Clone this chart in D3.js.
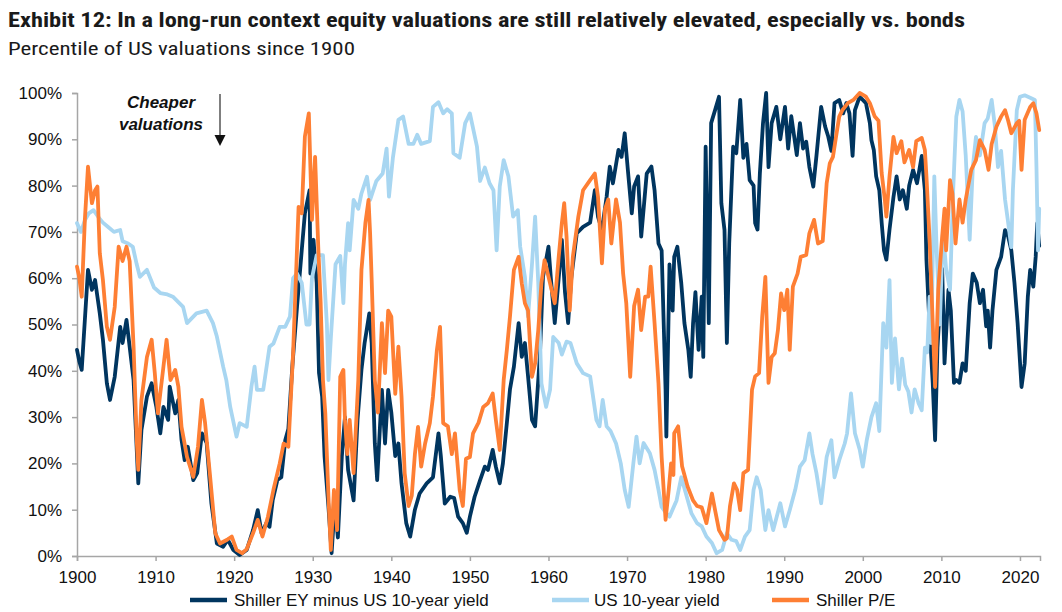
<!DOCTYPE html>
<html>
<head>
<meta charset="utf-8">
<script src="https://cdn.jsdelivr.net/npm/d3@7"></script>
<style>
body{margin:0;background:#fff;}
svg{display:block;}
</style>
</head>
<body>
<svg id="chart" width="1062" height="612"></svg>
<script>
// ---- Data: [year, percentile] ----
const yTicks = [0,10,20,30,40,50,60,70,80,90,100];
const xTicks = [1900,1910,1920,1930,1940,1950,1960,1970,1980,1990,2000,2010,2020];
const seriesNames = ["Shiller EY minus US 10-year yield","US 10-year yield","Shiller P/E"];

const eySeries = [[1900.0,44.5],[1900.3,42],[1900.6,40.2],[1901.0,51],[1901.4,61.8],[1901.9,57.5],[1902.3,59.6],[1902.6,56],[1902.9,52.4],[1903.3,46.7],[1903.8,37.3],[1904.2,33.7],[1904.8,38.7],[1905.5,49.5],[1905.8,46],[1906.3,51],[1906.7,45.2],[1907.2,38],[1907.8,15.7],[1908.2,27.2],[1908.9,34.4],[1909.5,37.3],[1910.1,32.2],[1910.6,26.5],[1911.0,32.2],[1911.6,29.4],[1911.8,36.6],[1912.5,30.8],[1912.9,33.7],[1913.3,25.1],[1913.7,20.7],[1914.1,23.6],[1914.8,16.4],[1915.3,17.9],[1915.9,26.5],[1916.5,24.4],[1917.1,11.4],[1917.8,2.7],[1918.6,2],[1919.2,3.5],[1919.9,1.3],[1920.7,0.2],[1921.6,1.3],[1922.4,5.6],[1923.0,9.9],[1923.5,4.9],[1924.1,7.1],[1924.5,6.3],[1924.9,12],[1925.5,16.4],[1926.0,17],[1926.5,25],[1926.9,27.5],[1927.4,40.9],[1928.0,53.8],[1928.6,66],[1929.0,74],[1929.6,79],[1929.7,61],[1930.1,68.3],[1930.5,59],[1930.8,39.5],[1931.2,34.4],[1931.5,21.6],[1932.0,10.6],[1932.4,0.6],[1932.8,11.3],[1933.2,4],[1933.7,21.4],[1934.1,30],[1934.5,18.6],[1935.2,12],[1935.7,29.4],[1936.2,40.2],[1936.6,46],[1937.2,52.4],[1937.5,46],[1937.9,24.3],[1938.2,16.4],[1938.8,35.9],[1939.2,24.3],[1939.6,35.9],[1940.0,31],[1940.5,21.6],[1940.9,24.3],[1941.3,15.7],[1941.9,7.1],[1942.4,4.2],[1943.0,10],[1943.6,13.5],[1944.5,15.7],[1945.3,17],[1946.0,26.5],[1946.3,21.6],[1946.8,11.3],[1947.5,12.8],[1948.0,12.5],[1948.5,8.5],[1949.1,7.1],[1949.6,5],[1950.0,8.5],[1950.6,12.8],[1951.3,16.4],[1951.9,19.3],[1952.3,18.6],[1952.9,22.9],[1953.3,19.3],[1953.8,15.7],[1954.2,20],[1954.7,28.7],[1955.1,36],[1955.6,40.9],[1956.2,50.3],[1956.6,43],[1957.0,46],[1957.4,38.8],[1957.9,29.4],[1958.3,28],[1958.9,43],[1959.3,60.3],[1960.0,66.8],[1960.3,60],[1960.8,50.3],[1961.3,60],[1961.7,68.3],[1962.1,57],[1962.5,50.3],[1962.9,60],[1963.6,69.7],[1964.4,71.1],[1965.3,72],[1965.9,79],[1966.3,73.3],[1966.8,70.4],[1967.4,77.6],[1967.8,84.1],[1968.2,80.5],[1968.9,87.7],[1969.3,86.2],[1969.7,91.3],[1970.1,83.4],[1970.6,74],[1970.9,79.8],[1971.4,82],[1971.8,69],[1972.5,82.6],[1973.1,84.1],[1973.5,79],[1974.0,67.5],[1974.4,66],[1974.9,35.9],[1975.0,25.8],[1975.4,63],[1975.8,53],[1976.0,64.6],[1976.4,66.8],[1976.9,58.9],[1977.3,50.3],[1977.8,44.5],[1978.1,38.7],[1978.4,50.3],[1978.7,57],[1979.1,44.5],[1979.5,56],[1979.7,43],[1980.0,88.4],[1980.4,50.3],[1980.7,93.5],[1981.2,96.3],[1981.7,99.2],[1982.0,76.2],[1982.4,70.4],[1982.7,46],[1983.0,67.5],[1983.5,88.4],[1983.9,87],[1984.4,98.5],[1984.8,86],[1985.2,89],[1985.6,81.2],[1986.1,80],[1986.3,71.9],[1986.6,70.5],[1986.9,82.6],[1987.3,93.5],[1987.7,100],[1988.0,84],[1988.4,93.5],[1989.0,97],[1989.5,90],[1990.1,97],[1990.5,88],[1990.9,95],[1991.6,86.6],[1992.0,93.5],[1992.4,88],[1992.8,89.5],[1993.2,84],[1993.7,79.8],[1994.1,86.4],[1994.7,97],[1995.2,92.8],[1995.6,90.6],[1996.0,87.5],[1996.4,97.8],[1997.0,98.5],[1997.5,95.6],[1997.9,97.8],[1998.3,95.6],[1998.7,86.4],[1999.0,96.3],[1999.6,99.2],[2000.4,97.8],[2000.9,93.5],[2001.1,89.8],[2001.4,87.7],[2001.7,82],[2002.1,79],[2002.4,72],[2002.7,66],[2003.0,64],[2003.4,70.5],[2003.9,77.5],[2004.3,82],[2004.7,77],[2005.1,79],[2005.6,75],[2005.9,80],[2006.4,83.4],[2006.9,80.5],[2007.5,86.4],[2007.9,79],[2008.1,64],[2008.5,49.5],[2008.9,37.4],[2009.2,25],[2009.5,45],[2010.1,62],[2010.4,41.6],[2010.9,57.5],[2011.2,53],[2011.6,37.4],[2011.9,38],[2012.3,37.4],[2012.7,41.6],[2013.1,40],[2013.6,54.6],[2014.0,61],[2014.5,59],[2014.9,54.6],[2015.3,57.5],[2015.7,49.6],[2015.9,53],[2016.2,45],[2016.5,53],[2017.0,61.8],[2017.6,64.6],[2018.1,70.4],[2018.5,69],[2018.9,66],[2019.3,59],[2019.7,50.3],[2020.2,36.5],[2020.6,41.6],[2021.0,56],[2021.3,61.8],[2021.7,58.2],[2022.0,64.6],[2022.2,71.9],[2022.45,67]];

const bondSeries = [[1900.0,71.9],[1900.5,70],[1901.0,72.5],[1901.5,74],[1902.1,74.7],[1902.8,73],[1903.3,72],[1904.0,71],[1904.7,70],[1905.5,70.4],[1905.8,68],[1906.5,67.5],[1907.1,66.8],[1907.6,63],[1908.0,60.3],[1908.9,61.8],[1909.8,58],[1910.6,56.8],[1911.5,56.5],[1912.2,56],[1913.5,53.8],[1914.0,50.3],[1915.2,52.4],[1916.5,53],[1917.3,50.3],[1917.8,47.4],[1918.6,40.9],[1919.0,38],[1919.5,32.2],[1920.3,25.8],[1920.7,28.7],[1921.6,27.9],[1922.2,36.6],[1922.6,40.9],[1922.9,35.9],[1923.7,35.9],[1924.5,45.2],[1925.0,45.9],[1925.8,49.5],[1926.5,49.5],[1927.1,51.7],[1927.5,60],[1928.0,61],[1928.6,59],[1929.2,50],[1929.6,50],[1929.9,60],[1930.5,65],[1931.3,65],[1931.8,50],[1932.0,38],[1932.3,47],[1932.9,63],[1933.5,64.8],[1933.9,54.6],[1934.1,63],[1934.5,71.9],[1934.7,66],[1935.2,76.9],[1935.8,75],[1936.2,78.3],[1936.9,81.9],[1937.3,76.9],[1938.1,81],[1938.9,82.6],[1939.4,88],[1939.7,77.6],[1940.2,86],[1940.9,94.2],[1941.5,94.9],[1942.2,89],[1942.8,89],[1943.3,91],[1943.8,89],[1944.9,89.6],[1945.3,97],[1946.0,98],[1946.6,95.6],[1947.1,96.5],[1947.7,95.6],[1947.9,87],[1948.7,86],[1949.4,93.5],[1950.0,95.6],[1950.9,88.4],[1951.3,81],[1951.9,83.9],[1952.5,80.5],[1953.0,79],[1953.4,66],[1953.8,79.8],[1954.3,85.5],[1954.9,82],[1955.5,73.3],[1956.1,74.7],[1956.4,66.8],[1957.0,60.3],[1957.4,51.7],[1957.9,63],[1958.3,73.3],[1958.7,59],[1959.1,37.3],[1959.7,32.2],[1960.2,35.9],[1960.6,47.3],[1961.3,46],[1961.7,43.5],[1962.3,46.3],[1962.8,46],[1963.6,41.6],[1964.4,39.5],[1965.3,38.8],[1966.1,29.4],[1966.5,28],[1966.9,33.7],[1967.4,28],[1967.9,27],[1968.6,24.3],[1969.2,20],[1969.7,14.3],[1970.2,10.6],[1970.8,20],[1971.2,25.8],[1971.6,20],[1972.1,24.4],[1972.9,22.2],[1973.5,18.6],[1974.0,14.3],[1974.4,10.6],[1975.0,9.2],[1975.4,8.5],[1976.3,12],[1976.9,17],[1977.6,12.8],[1978.2,9.2],[1978.9,7.1],[1979.5,6.4],[1980.1,4.2],[1980.8,2.8],[1981.4,0.6],[1982.1,1.3],[1982.7,4.9],[1983.3,3.5],[1983.9,3.2],[1984.4,1.3],[1985.0,4.2],[1985.6,5.6],[1986.1,14.3],[1986.5,17],[1987.0,14.3],[1987.6,5.6],[1988.0,9.9],[1988.6,5.6],[1989.5,11.4],[1990.1,6.4],[1990.7,9.9],[1991.4,14.3],[1992.0,19.3],[1992.6,20.7],[1993.2,26.5],[1993.6,22],[1994.1,17.9],[1994.7,11.4],[1995.4,21.4],[1996.0,25],[1996.4,17],[1997.0,20.7],[1997.7,24.3],[1998.0,26.5],[1998.5,35.1],[1999.0,26.5],[1999.6,23],[2000.0,19.3],[2000.5,25],[2001.1,30],[2001.7,33],[2002.1,27],[2002.6,50.3],[2003.0,45],[2003.4,59.6],[2003.7,37.4],[2004.1,47],[2004.6,36],[2005.0,42.6],[2005.4,37],[2005.8,35.5],[2006.2,31],[2006.6,36],[2007.1,33],[2007.5,31.5],[2007.9,45],[2008.2,44],[2008.5,56],[2008.7,46],[2009.1,82],[2009.4,66],[2009.8,50],[2010.2,70.4],[2010.6,62],[2011.1,57.5],[2011.5,79],[2011.9,94.9],[2012.3,98.5],[2012.7,96],[2013.1,86.4],[2013.6,68.3],[2014.0,84],[2014.4,90.5],[2014.9,86.5],[2015.5,93.5],[2015.9,94.5],[2016.4,98.5],[2016.8,93],[2017.2,84],[2017.6,87.5],[2018.1,77],[2018.5,72],[2018.9,66.7],[2019.1,79],[2019.6,96.3],[2020.0,99.2],[2020.6,99.5],[2021.5,98.8],[2021.9,98.5],[2022.1,84],[2022.3,66],[2022.45,75]];

const peSeries = [[1900.0,62.5],[1900.3,60],[1900.6,56],[1901.0,72.6],[1901.4,84.1],[1901.9,76.2],[1902.3,79],[1902.6,79.8],[1902.9,65.4],[1903.3,59.6],[1903.8,49.5],[1904.2,46.7],[1904.8,53.8],[1905.3,66.8],[1905.8,63.7],[1906.3,66.8],[1906.7,63.7],[1907.2,45.2],[1907.6,25.1],[1907.8,18.6],[1908.2,33.7],[1908.9,43],[1909.5,46.7],[1909.9,39.5],[1910.3,30.8],[1911.0,40.9],[1911.4,46.7],[1911.9,38],[1912.5,40.2],[1912.9,36.6],[1913.3,27.9],[1914.0,21.4],[1914.8,17.1],[1915.4,23.6],[1915.9,33.7],[1916.3,28.7],[1916.9,17.9],[1917.6,4.9],[1918.2,2.7],[1919.1,3.5],[1919.7,4.2],[1920.3,1.3],[1921.0,0.6],[1921.6,1.5],[1922.4,4.9],[1923.0,7.8],[1923.6,4.2],[1924.3,8.5],[1925.0,14.3],[1925.8,20],[1926.3,24.3],[1926.9,23.6],[1927.5,43.8],[1928.2,75.4],[1928.6,74],[1929.0,90.6],[1929.5,95.6],[1929.9,72.6],[1930.3,86.2],[1930.7,66.8],[1931.0,55],[1931.3,38],[1931.6,30.8],[1932.0,12.8],[1932.3,1.3],[1932.7,14.3],[1933.1,5.6],[1933.5,38.7],[1933.9,40.2],[1934.1,29.4],[1934.4,22],[1934.7,29.4],[1935.2,17.9],[1935.8,38],[1936.2,61.8],[1936.7,71.9],[1937.1,76.9],[1937.3,69.7],[1937.5,59.6],[1937.9,38],[1938.3,31],[1938.8,50.3],[1939.2,39.5],[1939.6,53],[1940.0,51.7],[1940.5,35],[1940.9,45.2],[1941.3,34.4],[1941.7,17.9],[1942.2,10.8],[1942.6,13],[1943.0,22],[1943.4,27.9],[1943.8,19.3],[1944.3,24.3],[1944.9,28.7],[1945.3,34.4],[1945.8,44.5],[1946.2,49.5],[1946.6,28.7],[1947.2,28],[1947.7,22],[1948.1,26.5],[1948.7,14.3],[1949.1,10.8],[1949.5,21],[1950.0,21.4],[1950.4,26.5],[1951.1,28.8],[1951.7,32.2],[1952.3,33],[1952.9,35.1],[1953.3,29.4],[1953.8,22.9],[1954.3,38],[1954.7,44.5],[1955.1,51.7],[1955.6,61.8],[1956.2,64.6],[1956.6,58.9],[1957.0,54.6],[1957.4,53],[1957.9,38.7],[1958.3,41.6],[1958.7,48.8],[1959.1,58.9],[1959.5,63.9],[1960.2,58.9],[1960.8,54.6],[1961.3,64.6],[1961.7,71.9],[1962.0,76.2],[1962.3,69],[1962.7,53],[1963.1,64.6],[1963.8,73.3],[1964.4,79],[1965.3,81.2],[1965.9,82.6],[1966.3,77.6],[1966.8,63.2],[1967.2,75],[1967.6,77],[1968.0,67.5],[1968.6,77],[1969.1,72],[1969.5,61],[1969.9,54.6],[1970.4,38.7],[1970.9,54],[1971.4,57.5],[1971.8,48.8],[1972.3,56],[1972.7,56],[1973.0,62.5],[1973.5,50.3],[1974.0,37.3],[1974.4,21.4],[1974.9,7.8],[1975.3,14.3],[1975.6,20],[1975.9,17.5],[1976.0,26.5],[1976.5,28],[1977.0,19.4],[1977.7,15],[1978.4,12],[1978.9,10.8],[1979.5,10.5],[1980.1,7.1],[1980.8,13.5],[1981.2,9.9],[1981.7,5.6],[1982.4,3.5],[1982.7,3.8],[1983.1,10.8],[1983.6,15.7],[1984.0,14.3],[1984.4,9.9],[1984.8,17.9],[1985.4,18.6],[1985.9,35.9],[1986.3,38.8],[1986.8,39.5],[1987.2,51.7],[1987.6,60.3],[1988.0,37.4],[1988.4,43],[1988.8,43.8],[1989.2,48.8],[1989.6,56.7],[1990.0,53.1],[1990.4,57.5],[1990.7,44.5],[1991.1,58.2],[1991.7,61],[1992.1,64.6],[1992.8,65],[1993.2,69.7],[1993.8,72.6],[1994.3,67.5],[1994.9,68],[1995.4,80.5],[1995.8,84.8],[1996.2,86.2],[1996.6,90.6],[1997.0,94.9],[1997.4,96.3],[1998.1,97.8],[1998.8,98.5],[1999.6,100],[2000.4,99.2],[2000.9,97.8],[2001.5,95],[2002.0,94],[2002.4,82.7],[2002.8,77],[2003.0,73.3],[2003.4,82],[2003.9,90.5],[2004.3,87],[2004.9,89.6],[2005.3,85],[2005.9,87.7],[2006.4,84],[2006.8,89.6],[2007.5,90.3],[2007.9,87.7],[2008.1,82],[2008.5,68.3],[2008.9,50.3],[2009.2,36.5],[2009.6,57.5],[2010.1,69],[2010.4,75],[2010.6,66],[2011.1,81.2],[2011.4,78.3],[2011.8,67.5],[2012.3,77],[2012.7,72],[2013.1,77],[2013.8,83.4],[2014.4,85.5],[2014.9,89.8],[2015.5,87.7],[2016.0,83.4],[2016.4,89],[2017.0,92.7],[2017.6,94.9],[2018.1,96.3],[2018.5,94],[2018.9,91.3],[2019.6,93.5],[2019.9,94],[2020.2,83.4],[2020.6,94.2],[2021.3,97],[2021.7,97.8],[2022.1,95.6],[2022.45,92]];

// ---- Chart ----
const svg = d3.select("#chart");
const colors = ["#00355f", "#a8d6f1", "#fe7f34"];
const x = d3.scaleLinear().domain([1900, 2022.55]).range([77, 1040]);
const y = d3.scaleLinear().domain([0, 100]).range([556, 93]);

const narrow = "'Liberation Sans Narrow','Arial Narrow','Roboto Condensed','Liberation Sans',Arial,sans-serif";
svg.append("text").attr("x", 8).attr("y", 27)
  .attr("font-family", narrow).attr("font-weight", "bold").attr("font-size", 21).attr("fill", "#1a1a1a")
  .attr("textLength", 957).attr("lengthAdjust", "spacingAndGlyphs")
  .text("Exhibit 12: In a long-run context equity valuations are still relatively elevated, especially vs. bonds");
svg.append("text").attr("x", 8).attr("y", 55)
  .attr("font-family", narrow).attr("font-size", 19).attr("fill", "#1a1a1a")
  .attr("textLength", 347).attr("lengthAdjust", "spacingAndGlyphs")
  .text("Percentile of US valuations since 1900");

// Axes
const axisColor = "#a6a6a6";
const yAxis = svg.append("g").attr("transform", "translate(77,0)")
  .call(d3.axisLeft(y).tickValues(yTicks).tickSize(5).tickPadding(10).tickFormat(d => d + "%"));
const xAxis = svg.append("g").attr("transform", "translate(0,556)")
  .call(d3.axisBottom(x).tickValues(xTicks).tickSize(5).tickPadding(10).tickFormat(d3.format("d")));
[yAxis, xAxis].forEach(g => {
  g.select(".domain").attr("stroke", axisColor).attr("stroke-width", 1.5);
  g.selectAll(".tick line").attr("stroke", axisColor).attr("stroke-width", 1.5);
  g.selectAll(".tick text").attr("fill", "#111").attr("font-size", 17)
    .attr("font-family", "'Liberation Sans',Arial,sans-serif");
});

// Lines
const line = d3.line().x(d => x(d[0])).y(d => y(d[1]));
[eySeries, bondSeries, peSeries].forEach((s, i) => {
  svg.append("path").datum(s)
    .attr("d", line).attr("fill", "none")
    .attr("stroke", colors[i]).attr("stroke-width", 3.8)
    .attr("stroke-linejoin", "round").attr("stroke-linecap", "round");
});

// Annotation
const ann = svg.append("g").attr("font-family", "'Liberation Sans',Arial,sans-serif")
  .attr("font-weight", "bold").attr("font-style", "italic").attr("font-size", 17)
  .attr("text-anchor", "middle").attr("fill", "#111");
ann.append("text").attr("x", 161).attr("y", 108).text("Cheaper");
ann.append("text").attr("x", 161).attr("y", 130).text("valuations");
svg.append("line").attr("x1", 220).attr("x2", 220).attr("y1", 94).attr("y2", 136)
  .attr("stroke", "#555").attr("stroke-width", 1.5);
svg.append("path").attr("d", "M214.5,135 L225.5,135 L220,146 Z").attr("fill", "#111");

// Legend
const legendItems = [{x: 190, tx: 234}, {x: 552, tx: 594}, {x: 772, tx: 816}];
legendItems.forEach((l, i) => {
  svg.append("line").attr("x1", l.x).attr("x2", l.x + 37).attr("y1", 600).attr("y2", 600)
    .attr("stroke", colors[i]).attr("stroke-width", 4.5);
  svg.append("text").attr("x", l.tx).attr("y", 606)
    .attr("font-family", "'Liberation Sans',Arial,sans-serif").attr("font-size", 17)
    .attr("fill", "#111").text(seriesNames[i]);
});
</script>
</body>
</html>
